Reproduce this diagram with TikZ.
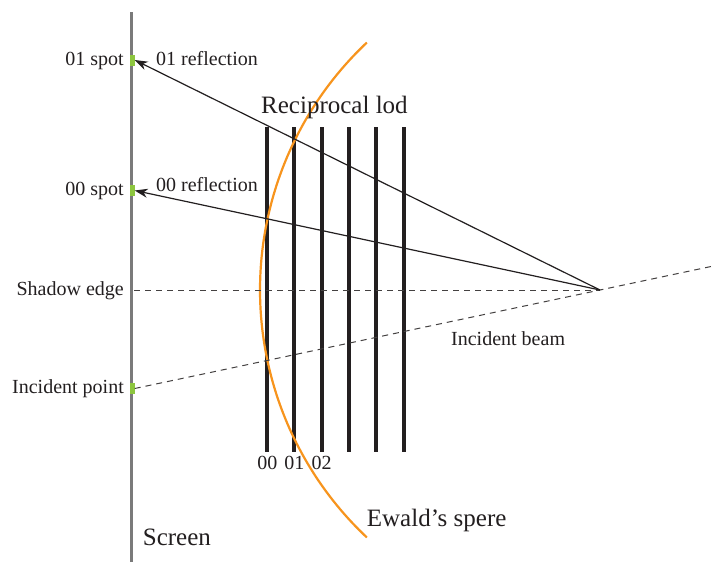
\documentclass[tikz,border=0pt]{standalone}
\usepackage{fontspec}
\setmainfont{Liberation Serif}
\usetikzlibrary{arrows.meta,calc}
\definecolor{screengray}{HTML}{7A7A7A}
\definecolor{spotgreen}{HTML}{8DC63F}
\definecolor{ewald}{HTML}{F7941D}
\definecolor{ink}{HTML}{231F20}
\begin{document}
\begin{tikzpicture}[x=1pt,y=-1pt,
  every node/.style={inner sep=0pt, text=ink},
  small/.style={font=\fontsize{20}{24}\selectfont},
  big/.style={font=\fontsize{25}{30}\selectfont},
  spot/.style={fill=spotgreen, draw=none, minimum width=5pt, minimum height=11pt, inner sep=0pt},
  lod/.style={draw=ink, line width=4pt},
  ray/.style={draw=ink, line width=1.2pt, -{Stealth[length=13pt,width=9pt,inset=4pt]}},
  guide/.style={draw=ink!85, line width=1pt, dash pattern=on 6pt off 5pt},
  sphere/.style={draw=ewald, line width=2.2pt}]
\useasboundingbox (0,0) rectangle (712,562);
\fill[white] (0,0) rectangle (712,562);
% screen
\draw[screengray, line width=3.5pt] (131.7,12) -- (131.7,562);
\node[spot] (s01) at (132,60) {};
\node[spot] (s00) at (132,190.5) {};
\node[spot] (ip) at (132,388.5) {};
\coordinate (src) at (600,290);
\coordinate (shadow) at (134,290);
% lods
\foreach \x/\n in {267.3/a,294.3/b,321.7/c,349/d,376/e,404.3/f}{
  \coordinate (top\n) at (\x,127);
  \coordinate (bot\n) at (\x,452);
  \draw[lod] (top\n) -- (bot\n);
}
\node[small, anchor=base] (l00) at (267.3,469) {00};
\node[small, anchor=base] (l01) at (294.3,469) {01};
\node[small, anchor=base] (l02) at (321.7,469) {02};
% Ewald sphere
\draw[sphere] (src) ++(133.3:340) arc[start angle=133.3, end angle=226.7, radius=340];
% guides
\draw[guide] (shadow) -- (src);
\coordinate (beamend) at ($(ip.east)!1.2403!(src)$);
\draw[guide] (ip.east) -- (src) -- (beamend);
% rays
\draw[ray] (src) -- (s01.east);
\draw[ray] (src) -- (s00.east);
% labels
\node[small, anchor=base east] (t01) at (124,65.5) {01 spot};
\node[small, anchor=base west] (r01) at (156,65.5) {01 reflection};
\node[small, anchor=base east] (t00) at (124,195.7) {00 spot};
\node[small, anchor=base west] (r00) at (156,191) {00 reflection};
\node[small, anchor=base east] (tsh) at (124,295.7) {Shadow edge};
\node[small, anchor=base east] (tip) at (124,393.3) {Incident point};
\node[small, anchor=base west] (tib) at (451,345) {Incident beam};
\node[big, anchor=base west] (trl) at (261,113) {Reciprocal lod};
\node[big, anchor=base west] (tsc) at (142.7,545) {Screen};
\node[big, anchor=base west] (tew) at (366.7,526.7) {Ewald’s spere};
\end{tikzpicture}
\end{document}
